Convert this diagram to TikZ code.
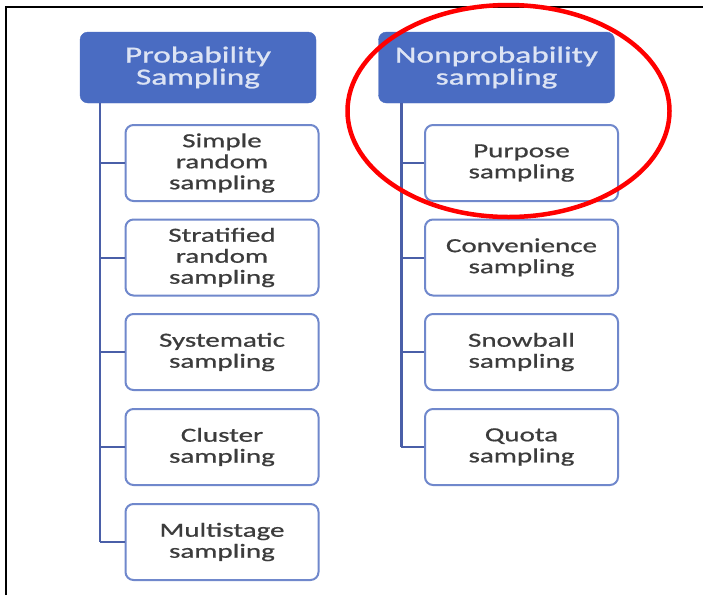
\documentclass[tikz,border=0pt]{standalone}
\usepackage{fontspec}
\newfontfamily\boxfont[FakeStretch=1.45,FakeBold=0.8]{Carlito}
\newfontfamily\headfont[FakeStretch=1.45,FakeBold=1]{Carlito}
\definecolor{headblue}{HTML}{4A6CC2}
\definecolor{headtext}{HTML}{DDE4F4}
\definecolor{edgeblue}{HTML}{7088CC}
\definecolor{trunkblue}{HTML}{4A5FA8}
\definecolor{bodytext}{HTML}{3C3C3C}
\tikzset{
  headbox/.style={draw=headblue, fill=headblue, rounded corners=8pt,
    minimum width=236pt, minimum height=71pt, inner sep=0pt, align=center,
    text=headtext, font=\headfont\fontsize{23}{22}\selectfont},
  itembox/.style={draw=edgeblue, line width=2pt, fill=white, rounded corners=8pt,
    minimum width=193pt, minimum height=76pt, inner sep=0pt, align=center,
    text=bodytext, font=\boxfont\fontsize{20}{21}\selectfont},
  trunk/.style={draw=trunkblue, line width=2.6pt},
  tick/.style={draw=trunkblue, line width=2pt},
  frameline/.style={draw=black, line width=2.5pt},
  focus/.style={draw=red, line width=4.5pt}
}
\begin{document}
\begin{tikzpicture}[x=1pt, y=-1pt]
\useasboundingbox (0,0) rectangle (703,595);
\fill[white] (0,0) rectangle (703,595);
% frame edges
\draw[frameline] (6,595) -- (6,7) -- (703,7);

% column heads
\node[headbox] (lh) at (198,67.5) {Probability\\Sampling};
\node[headbox] (rh) at (496.5,67.5) {Nonprobability\\sampling};

% left column items
\node[itembox] (l1) at (222,163)   {Simple\\random\\sampling};
\node[itembox] (l2) at (222,257.5) {Stratified\\random\\sampling};
\node[itembox] (l3) at (222,352)   {Systematic\\sampling};
\node[itembox] (l4) at (222,447)   {Cluster\\sampling};
\node[itembox] (l5) at (222,542)   {Multistage\\sampling};

% right column items
\node[itembox] (r1) at (521.5,163)   {Purpose\\sampling};
\node[itembox] (r2) at (521.5,257.5) {Convenience\\sampling};
\node[itembox] (r3) at (521.5,352)   {Snowball\\sampling};
\node[itembox] (r4) at (521.5,447)   {Quota\\sampling};

% connectors
\coordinate (lt) at ([xshift=20pt]lh.south west);
\coordinate (rt) at ([xshift=23pt]rh.south west);
\draw[trunk] (lt) -- (lt |- l5.west);
\draw[trunk] (rt) -- (rt |- r4.west);
\foreach \k in {1,...,5} { \draw[tick] (lt |- l\k.west) -- (l\k.west); }
\foreach \k in {1,...,4} { \draw[tick] (rt |- r\k.west) -- (r\k.west); }

% highlight around the second head
\draw[focus] (508.5,111) ellipse [x radius=161, y radius=106];
\end{tikzpicture}
\end{document}
